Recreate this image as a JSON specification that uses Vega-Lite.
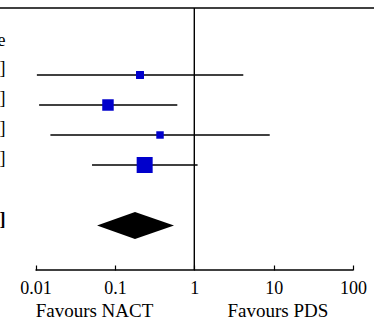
{
  "$schema": "https://vega.github.io/schema/vega-lite/v6.json",
  "width": 374,
  "height": 270,
  "autosize": {"type": "none"},
  "padding": {"left": 0, "top": 0, "right": 0, "bottom": 50},
  "background": "white",
  "config": {
    "view": {"stroke": null},
    "axisX": {
      "domain": false,
      "grid": false,
      "ticks": true,
      "tickSize": -5,
      "tickColor": "black",
      "tickWidth": 1.2,
      "labelFont": "Liberation Serif",
      "labelFontSize": 18,
      "labelColor": "black",
      "labelPadding": 14,
      "labelFlush": false,
      "labelOverlap": false,
      "title": null
    }
  },
  "datasets": {
    "studies": [
      {"row": 4, "est": 0.207, "lower": 0.0104, "upper": 4.14, "weight": 12.5, "label": "0.21 [0.01, 4.14]"},
      {"row": 3, "est": 0.0818, "lower": 0.0111, "upper": 0.611, "weight": 26.0, "label": "0.08 [0.01, 0.61]"},
      {"row": 2, "est": 0.370, "lower": 0.0154, "upper": 8.91, "weight": 11.0, "label": "0.37 [0.02, 8.91]"},
      {"row": 1, "est": 0.237, "lower": 0.0515, "upper": 1.10, "weight": 50.5, "label": "0.24 [0.05, 1.10]"}
    ],
    "summary": [
      {"x": 0.0596, "ylo": -1.02, "yhi": -1.02},
      {"x": 0.179, "ylo": -1.47, "yhi": -0.57},
      {"x": 0.555, "ylo": -1.02, "yhi": -1.02}
    ],
    "summaryLabel": [
      {"row": -1.02, "label": "0.18 [0.06, 0.56]"}
    ],
    "header": [
      {"row": 5.14, "label": "Estimate"}
    ],
    "lines": [
      {"top": 6.233, "bottom": -2.5, "ref": 1, "axisFrom": 0.01, "axisTo": 100}
    ],
    "sides": [
      {"at": 0.0553, "label": "Favours NACT"},
      {"at": 11.3, "label": "Favours PDS"}
    ]
  },
  "layer": [
    {
      "data": {"name": "lines"},
      "mark": {"type": "rule", "color": "black", "strokeWidth": 1.4},
      "encoding": {
        "y": {"field": "top", "type": "quantitative", "scale": {"domain": [-2.5, 6.5], "nice": false, "zero": false}, "axis": null}
      }
    },
    {
      "data": {"name": "lines"},
      "mark": {"type": "rule", "color": "black", "strokeWidth": 1.4},
      "encoding": {
        "x": {"field": "ref", "type": "quantitative", "scale": {"type": "log", "domain": [0.00357, 183.4], "nice": false}, "axis": {"values": [0.01, 0.1, 1, 10, 100], "format": "~g"}},
        "y": {"field": "bottom", "type": "quantitative", "scale": {"domain": [-2.5, 6.5], "nice": false, "zero": false}, "axis": null},
        "y2": {"field": "top"}
      }
    },
    {
      "data": {"name": "lines"},
      "mark": {"type": "rule", "color": "black", "strokeWidth": 1.4},
      "encoding": {
        "x": {"field": "axisFrom", "type": "quantitative", "scale": {"type": "log", "domain": [0.00357, 183.4], "nice": false}, "axis": {"values": [0.01, 0.1, 1, 10, 100], "format": "~g"}},
        "x2": {"field": "axisTo"},
        "y": {"field": "bottom", "type": "quantitative", "scale": {"domain": [-2.5, 6.5], "nice": false, "zero": false}, "axis": null}
      }
    },
    {
      "data": {"name": "studies"},
      "mark": {"type": "rule", "color": "black", "strokeWidth": 1.4},
      "encoding": {
        "x": {"field": "lower", "type": "quantitative", "scale": {"type": "log", "domain": [0.00357, 183.4], "nice": false}, "axis": {"values": [0.01, 0.1, 1, 10, 100], "format": "~g"}},
        "x2": {"field": "upper"},
        "y": {"field": "row", "type": "quantitative", "scale": {"domain": [-2.5, 6.5], "nice": false, "zero": false}, "axis": null}
      }
    },
    {
      "data": {"name": "studies"},
      "mark": {"type": "point", "shape": "square", "filled": true, "color": "#0000cc", "opacity": 1, "strokeWidth": 0},
      "encoding": {
        "x": {"field": "est", "type": "quantitative", "scale": {"type": "log", "domain": [0.00357, 183.4], "nice": false}, "axis": {"values": [0.01, 0.1, 1, 10, 100], "format": "~g"}},
        "y": {"field": "row", "type": "quantitative", "scale": {"domain": [-2.5, 6.5], "nice": false, "zero": false}, "axis": null},
        "size": {"field": "weight", "type": "quantitative", "scale": {"domain": [0, 50.5], "range": [0, 256], "zero": true}, "legend": null}
      }
    },
    {
      "data": {"name": "summary"},
      "mark": {"type": "area", "orient": "vertical", "color": "black", "opacity": 1},
      "encoding": {
        "x": {"field": "x", "type": "quantitative", "scale": {"type": "log", "domain": [0.00357, 183.4], "nice": false}, "axis": {"values": [0.01, 0.1, 1, 10, 100], "format": "~g"}},
        "y": {"field": "ylo", "type": "quantitative", "scale": {"domain": [-2.5, 6.5], "nice": false, "zero": false}, "axis": null},
        "y2": {"field": "yhi"}
      }
    },
    {
      "data": {"name": "studies"},
      "mark": {"type": "text", "align": "right", "baseline": "middle", "dy": -6, "font": "Liberation Serif", "fontSize": 18, "color": "black"},
      "encoding": {
        "x": {"datum": 0.0042, "type": "quantitative", "scale": {"type": "log", "domain": [0.00357, 183.4], "nice": false}, "axis": {"values": [0.01, 0.1, 1, 10, 100], "format": "~g"}},
        "y": {"field": "row", "type": "quantitative", "scale": {"domain": [-2.5, 6.5], "nice": false, "zero": false}, "axis": null},
        "text": {"field": "label"}
      }
    },
    {
      "data": {"name": "summaryLabel"},
      "mark": {"type": "text", "align": "right", "baseline": "middle", "dy": -6, "font": "Liberation Serif", "fontSize": 18, "fontWeight": "bold", "color": "black"},
      "encoding": {
        "x": {"datum": 0.0042, "type": "quantitative", "scale": {"type": "log", "domain": [0.00357, 183.4], "nice": false}, "axis": {"values": [0.01, 0.1, 1, 10, 100], "format": "~g"}},
        "y": {"field": "row", "type": "quantitative", "scale": {"domain": [-2.5, 6.5], "nice": false, "zero": false}, "axis": null},
        "text": {"field": "label"}
      }
    },
    {
      "data": {"name": "header"},
      "mark": {"type": "text", "align": "right", "baseline": "middle", "font": "Liberation Serif", "fontSize": 18, "color": "black"},
      "encoding": {
        "x": {"datum": 0.0042, "type": "quantitative", "scale": {"type": "log", "domain": [0.00357, 183.4], "nice": false}, "axis": {"values": [0.01, 0.1, 1, 10, 100], "format": "~g"}},
        "y": {"field": "row", "type": "quantitative", "scale": {"domain": [-2.5, 6.5], "nice": false, "zero": false}, "axis": null},
        "text": {"field": "label"}
      }
    },
    {
      "data": {"name": "sides"},
      "mark": {"type": "text", "align": "center", "baseline": "alphabetic", "font": "Liberation Serif", "fontSize": 19, "color": "black"},
      "encoding": {
        "x": {"field": "at", "type": "quantitative", "scale": {"type": "log", "domain": [0.00357, 183.4], "nice": false}, "axis": {"values": [0.01, 0.1, 1, 10, 100], "format": "~g"}},
        "y": {"datum": -4.05, "type": "quantitative", "scale": {"domain": [-2.5, 6.5], "nice": false, "zero": false}, "axis": null},
        "text": {"field": "label"}
      }
    }
  ]
}
